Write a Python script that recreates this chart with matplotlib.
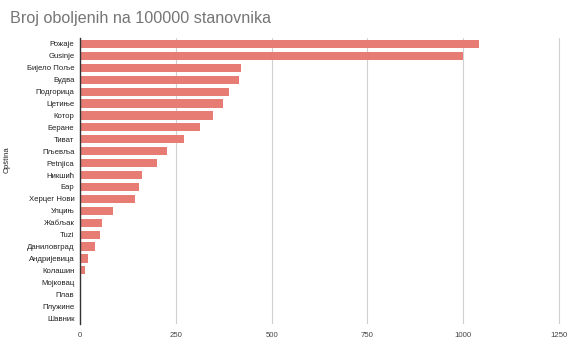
import matplotlib
matplotlib.use("Agg")
import matplotlib.pyplot as plt

plt.rcParams['font.family'] = ['Liberation Sans', 'DejaVu Sans']

municipalities = ["Рожаје", "Gusinje", "Бијело Поље", "Будва", "Подгорица", "Цетиње", "Котор",
                  "Беране", "Тиват", "Пљевља", "Petnjica", "Никшић", "Бар", "Херцег Нови",
                  "Улцињ", "Жабљак", "Tuzi", "Даниловград", "Андријевица", "Колашин",
                  "Мојковац", "Плав", "Плужине", "Шавник"]
values = [1040, 998, 420, 416, 390, 373, 348, 314, 271, 226, 200, 163, 155, 144,
          87, 57, 52, 38, 21, 12, 0, 0, 0, 0]
xticks = [0, 250, 500, 750, 1000, 1250]

fig = plt.figure(figsize=(5.8, 3.52), dpi=100)
ax = fig.add_axes([80/580, 1-324/352, (561-80)/580, (324-38)/352])

y = list(range(len(municipalities)))
ax.barh(y, values, height=0.68, color="#E67C73", zorder=3)
ax.set_ylim(len(municipalities)-0.5, -0.5)
ax.set_xlim(0, 1255)
ax.set_yticks(y)
ax.set_yticklabels(municipalities, fontsize=5.6, color="#222222")
ax.set_xticks(xticks)
ax.set_xticklabels([str(t) for t in xticks], fontsize=5.6, color="#444444")
ax.tick_params(axis='y', length=0, pad=4)
ax.tick_params(axis='x', length=0, pad=6)
ax.grid(axis='x', color="#d0d0d0", linewidth=0.8, zorder=0)
for s in ["top", "right", "bottom"]:
    ax.spines[s].set_visible(False)
ax.spines["left"].set_color("#333333")
ax.spines["left"].set_linewidth(1.0)
ax.spines["left"].set_zorder(4)

fig.text(10/580, 1-18/352, "Broj oboljenih na 100000 stanovnika", fontsize=11.6,
         color="#757575", va="center", ha="left")
fig.text(7/580, 1-160/352, "Opština", fontsize=5.6, color="#222222", rotation=90,
         va="center", ha="center")

fig.savefig("out.png", dpi=100)
